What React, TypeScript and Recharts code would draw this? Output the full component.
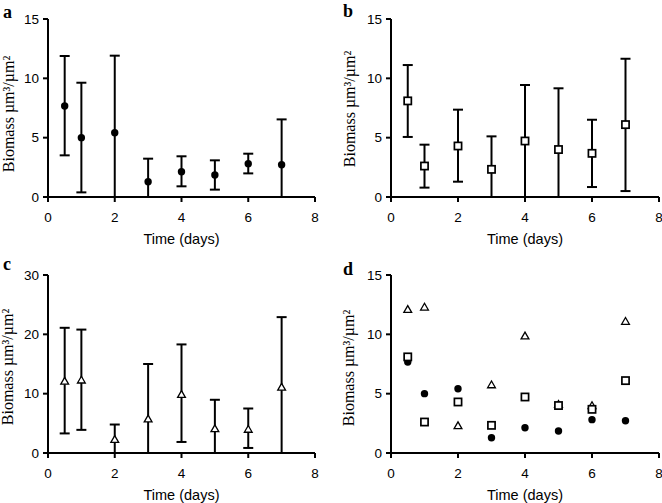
import React from "react";
import { ScatterChart, Scatter, XAxis, YAxis, ErrorBar } from "recharts";

// sampling days, shared by all panels
const days = [0.5, 1, 2, 3, 4, 5, 6, 7];

// panel a (filled circles)
const circleMean = [7.67, 5.0, 5.42, 1.29, 2.13, 1.85, 2.81, 2.72];
const circleUpper = [11.88, 9.63, 11.91, 3.23, 3.43, 3.09, 3.65, 6.54];
const circleLower = [3.51, 0.39, 0, 0, 0.9, 0.62, 1.99, 0];

// panel b (open squares)
const squareMean = [8.1, 2.61, 4.3, 2.33, 4.72, 4.0, 3.68, 6.1];
const squareUpper = [11.12, 4.41, 7.36, 5.11, 9.44, 9.16, 6.51, 11.65];
const squareLower = [5.06, 0.79, 1.29, 0, 0, 0, 0.84, 0.5];

// panel c (open triangles)
const triangleMean = [12.1, 12.3, 2.3, 5.75, 9.87, 4.1, 4.0, 11.1];
const triangleUpper = [21.1, 20.8, 4.8, 15.0, 18.3, 8.97, 7.5, 22.9];
const triangleLower = [3.3, 3.9, 0, 0, 1.86, 0, 0.85, 0];

const xTicks = [0, 2, 4, 6, 8];
const yTicks15 = [0, 5, 10, 15];
const yTicks30 = [0, 10, 20, 30];

const SANS = '"Liberation Sans", Arial, sans-serif';
const SERIF = '"Liberation Serif", "Times New Roman", serif';
const Y_TITLE = "Biomass µm³/µm²";

const toRows = (mean: number[], upper?: number[], lower?: number[]) =>
    days.map((x, i) => ({
        x,
        y: mean[i],
        err: upper && lower ? [mean[i] - lower[i], upper[i] - mean[i]] : undefined,
    }));

const circleRows = toRows(circleMean, circleUpper, circleLower);
const squareRows = toRows(squareMean, squareUpper, squareLower);
const triangleRows = toRows(triangleMean, triangleUpper, triangleLower);

const Dot = (props: any) => <circle cx={props.cx} cy={props.cy} r={3.7} fill="#000" />;

const Square = (props: any) => (
    <rect x={props.cx - 3.6} y={props.cy - 3.6} width={7.2} height={7.2} fill="#fff" stroke="#000" strokeWidth={1.7} />
);

const Triangle = (props: any) => {
    const { cx, cy } = props;
    return (
        <polygon
            points={`${cx},${cy - 3.8} ${cx - 3.9},${cy + 3} ${cx + 3.9},${cy + 3}`}
            fill="#fff"
            stroke="#000"
            strokeWidth={1.3}
            strokeLinejoin="miter"
        />
    );
};

interface PanelProps {
    left: number;
    top: number;
    height: number;
    marginTop: number;
    marginRight: number;
    yWidth: number;
    yMax: number;
    yTicks: number[];
    labelX: number;
    labelShift: number;
    children: React.ReactNode;
}

const Panel = ({ left, top, height, marginTop, marginRight, yWidth, yMax, yTicks, labelX, labelShift, children }: PanelProps) => {
    const YTitle = (props: any) => {
        const vb = props.viewBox || { y: marginTop, height: height - marginTop - 50 };
        const cy = vb.y + vb.height / 2 + labelShift;
        return (
            <text
                x={labelX}
                y={cy}
                transform={`rotate(-90 ${labelX} ${cy})`}
                textAnchor="middle"
                fontFamily={SERIF}
                fontSize={16}
                fill="#000"
            >
                {Y_TITLE}
            </text>
        );
    };

    return (
        <div style={{ position: "absolute", left, top }}>
            <ScatterChart width={331} height={height} margin={{ top: marginTop, right: marginRight, bottom: 0, left: 0 }}>
                <XAxis
                    type="number"
                    dataKey="x"
                    domain={[0, 8]}
                    ticks={xTicks}
                    interval={0}
                    height={50}
                    tickSize={5}
                    tickMargin={10}
                    axisLine={{ stroke: "#000", strokeWidth: 2 }}
                    tickLine={{ stroke: "#000", strokeWidth: 2 }}
                    tick={{ fill: "#000", fontSize: 13.5, fontFamily: SANS }}
                    label={{ value: "Time (days)", position: "insideBottom", offset: 3, fill: "#000", fontSize: 14.5, fontFamily: SANS }}
                />
                <YAxis
                    type="number"
                    dataKey="y"
                    domain={[0, yMax]}
                    ticks={yTicks}
                    interval={0}
                    width={yWidth}
                    tickSize={5}
                    tickMargin={4}
                    axisLine={{ stroke: "#000", strokeWidth: 2 }}
                    tickLine={{ stroke: "#000", strokeWidth: 2 }}
                    tick={{ fill: "#000", fontSize: 13.5, fontFamily: SANS }}
                    label={{ content: <YTitle /> }}
                />
                {children}
            </ScatterChart>
        </div>
    );
};

const letters = [
    { t: "a", x: 3, y: 18 },
    { t: "b", x: 343, y: 17 },
    { t: "c", x: 3, y: 270 },
    { t: "d", x: 343, y: 275 },
];

export default function App() {
    return (
        <div style={{ position: "absolute", left: 0, top: 0, width: 662, height: 503, background: "#fff", overflow: "hidden" }}>
            <Panel left={0} top={0} height={247} marginTop={19} marginRight={16} yWidth={48} yMax={15} yTicks={yTicks15} labelX={14} labelShift={6}>
                <Scatter data={circleRows} shape={Dot} isAnimationActive={false}>
                    <ErrorBar dataKey="err" direction="y" width={5} stroke="#000" strokeWidth={2} isAnimationActive={false} />
                </Scatter>
            </Panel>
            <Panel left={331} top={0} height={247} marginTop={19} marginRight={3} yWidth={60} yMax={15} yTicks={yTicks15} labelX={24} labelShift={1}>
                <Scatter data={squareRows} shape={Square} isAnimationActive={false}>
                    <ErrorBar dataKey="err" direction="y" width={5} stroke="#000" strokeWidth={2} isAnimationActive={false} />
                </Scatter>
            </Panel>
            <Panel left={0} top={250} height={253} marginTop={25} marginRight={16} yWidth={48} yMax={30} yTicks={yTicks30} labelX={13} labelShift={3}>
                <Scatter data={triangleRows} shape={Triangle} isAnimationActive={false}>
                    <ErrorBar dataKey="err" direction="y" width={5} stroke="#000" strokeWidth={2} isAnimationActive={false} />
                </Scatter>
            </Panel>
            <Panel left={331} top={250} height={253} marginTop={25} marginRight={3} yWidth={60} yMax={15} yTicks={yTicks15} labelX={23} labelShift={4}>
                <Scatter data={circleRows} shape={Dot} isAnimationActive={false} />
                <Scatter data={triangleRows} shape={Triangle} isAnimationActive={false} />
                <Scatter data={squareRows} shape={Square} isAnimationActive={false} />
            </Panel>
            <svg width={662} height={503} style={{ position: "absolute", left: 0, top: 0, pointerEvents: "none" }}>
                {letters.map(l => (
                    <text key={l.t} x={l.x} y={l.y} fontFamily={SERIF} fontWeight="bold" fontSize={18} fill="#000">
                        {l.t}
                    </text>
                ))}
            </svg>
        </div>
    );
}
